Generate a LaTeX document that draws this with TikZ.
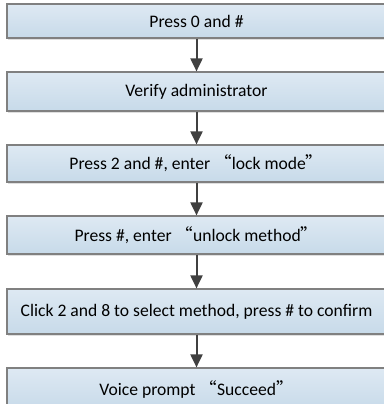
\documentclass[tikz,border=0pt]{standalone}
\usepackage{fontspec}
\setmainfont{Carlito}
\newfontfamily\cjk{Noto Sans CJK SC}
\usetikzlibrary{arrows.meta,shadows}

\definecolor{boxline}{RGB}{128,128,128}
\definecolor{boxtop}{RGB}{222,233,243}
\definecolor{boxbot}{RGB}{199,218,233}
\definecolor{arrowgray}{RGB}{64,64,64}

\newcommand{\openq}{{\cjk “}}
\newcommand{\closeq}{{\cjk ”}}

\tikzset{
  stepbox/.style={draw=boxline, line width=1.2pt, top color=boxtop, bottom color=boxbot,
    minimum width=379pt, inner sep=0pt, font=\fontsize{17.6}{20}\selectfont,
    drop shadow={shadow xshift=1pt, shadow yshift=-2pt, opacity=0.25}},
  flow/.style={draw=arrowgray, line width=2pt, -{Triangle[width=12pt,length=13pt]}}
}

\begin{document}
\begin{tikzpicture}[x=1pt,y=-1pt]

\def\width{383}
\def\height{404}
\def\ox{196.5}

\path [use as bounding box] (0,0) rectangle (\width,\height);

% STEPS
\node [stepbox, minimum height=34pt] (zero) at (\ox,21) {Press 0 and \#};
\node [stepbox, minimum height=39pt] (admin) at (\ox,91.5) {Verify administrator};
\node [stepbox, minimum height=37pt] (lock) at (\ox,163.5) {Press 2 and \#, enter \openq lock mode\closeq};
\node [stepbox, minimum height=38pt] (unlock) at (\ox,235) {Press \#, enter \openq unlock method\closeq};
\node [stepbox, minimum height=45pt] (select) at (\ox,311.5) {Click 2 and 8 to select method, press \# to confirm};
\node [stepbox, minimum height=42pt] (voice) at (\ox,389) {Voice prompt \openq Succeed\closeq};

% ARROWS
\draw [flow] (zero) -- (admin);
\draw [flow] (admin) -- (lock);
\draw [flow] (lock) -- (unlock);
\draw [flow] (unlock) -- (select);
\draw [flow] (select) -- (voice);

\end{tikzpicture}
\end{document}
